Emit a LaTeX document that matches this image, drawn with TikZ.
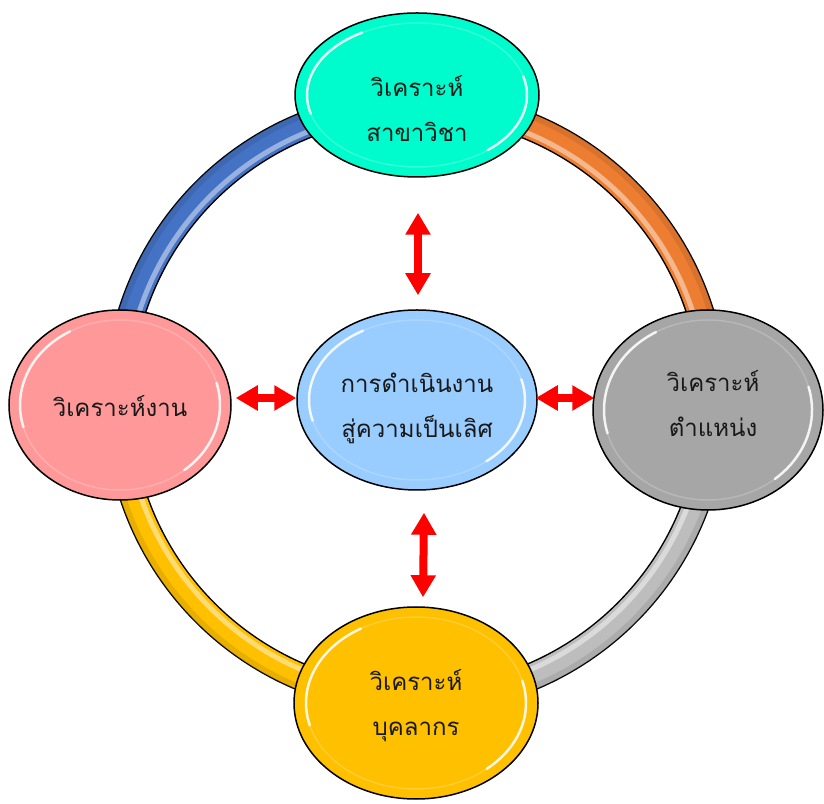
\documentclass[tikz,border=0pt]{standalone}
\usepackage{fontspec}
\newfontfamily\thaifont[Script=Thai]{Loma}
\usetikzlibrary{arrows.meta,shapes.geometric,calc}
\definecolor{cTop}{HTML}{00FCCC}
\definecolor{cCen}{HTML}{99CCFF}
\definecolor{cLeft}{HTML}{FF9999}
\definecolor{cRight}{HTML}{A6A6A6}
\definecolor{cBot}{HTML}{FFC000}
\definecolor{tBlue}{HTML}{4472C4}
\definecolor{tOrange}{HTML}{ED7D31}
\definecolor{tGray}{HTML}{BDBDBD}
\definecolor{tGold}{HTML}{FFC000}
\tikzset{
 bubble/.style={ellipse, draw=black, line width=1.5pt, inner sep=0pt},
 lbl/.style={font=\thaifont\fontsize{24}{45}\selectfont, align=center, inner sep=0pt, text=black!90},
 tubeout/.style={line width=28pt, draw=black},
 tubein/.style={line width=25pt},
 tubehi/.style={line width=5pt, draw=white, opacity=.45},
 glosshi/.style={draw=white, line width=2.5pt, opacity=.85, line cap=round},
 glossring/.style={draw=white, line width=1.5pt, opacity=.2},
 dblarrow/.style={draw=red, line width=8pt, {Triangle[length=22pt,width=24pt]}-{Triangle[length=22pt,width=24pt]}},
}
\newcommand\tubearc[3]{%
 \draw[tubeout] ($(O)+(#2:298)$) arc[start angle=#2,end angle=#3,radius=298];
 \draw[tubein,draw=#1] ($(O)+(#2:298)$) arc[start angle=#2,end angle=#3,radius=298];
 \draw[tubein,line width=6pt,draw=#1!75!black,opacity=.35] ($(O)+(#2:308)$) arc[start angle=#2,end angle=#3,radius=308];
 \draw[tubehi] ($(O)+(#2:291)$) arc[start angle=#2,end angle=#3,radius=291];
}
\newcommand\glossarcs[3]{%
 \draw[glossring] (#1.center) ellipse[x radius=#2, y radius=#3];
 \draw[glosshi] (#1.center) ++(120:#2 and #3) arc[start angle=120,end angle=195,x radius=#2,y radius=#3];
 \draw[glosshi] (#1.center) ++(-50:#2 and #3) arc[start angle=-50,end angle=15,x radius=#2,y radius=#3];
}
\begin{document}
\begin{tikzpicture}[x=1pt,y=1pt]
\useasboundingbox (0,0) rectangle (824,803);
\coordinate (O) at (416,401);
% ring
\tubearc{tBlue}{90}{180}
\tubearc{tOrange}{0}{90}
\tubearc{tGray}{-90}{0}
\tubearc{tGold}{180}{270}
% bubbles
\node[bubble, fill=cTop, minimum width=244pt, minimum height=164pt] (top) at (417,708) {};
\node[bubble, fill=cCen, minimum width=240pt, minimum height=180pt] (cen) at (417,403) {};
\node[bubble, fill=cLeft, minimum width=222pt, minimum height=190pt] (lft) at (120,398) {};
\node[bubble, fill=cRight, minimum width=230pt, minimum height=200pt] (rgt) at (708,393) {};
\node[bubble, fill=cBot, minimum width=244pt, minimum height=192pt] (bot) at (416,100) {};
\glossarcs{top}{110}{72}
\glossarcs{cen}{108}{80}
\glossarcs{lft}{100}{85}
\glossarcs{rgt}{104}{90}
\glossarcs{bot}{110}{86}
% arrows
\draw[dblarrow] ([xshift=1pt,yshift=-35pt]top.south) -- ([xshift=1pt,yshift=14pt]cen.north);
\draw[dblarrow] ([xshift=7pt,yshift=-22pt]cen.south) -- ([xshift=7pt,yshift=9pt]bot.north);
\draw[dblarrow] ([shift={(4pt,7pt)}]lft.east) -- ([shift={(0pt,2pt)}]cen.west);
\draw[dblarrow] ([shift={(-2pt,2pt)}]cen.east) -- ([shift={(2pt,12pt)}]rgt.west);
% labels
\node[lbl, anchor=base] (ttop) at ([yshift=-47pt]top.center) {วิเคราะห์\\สาขาวิชา};
\node[lbl, anchor=base] (tcen) at ([yshift=-38pt]cen.center) {การดำเนินงาน\\สู่ความเป็นเลิศ};
\node[lbl, anchor=base] (tlft) at ([yshift=-12pt]lft.center) {วิเคราะห์งาน};
\node[lbl, anchor=base] (trgt) at ([shift={(5pt,-27pt)}]rgt.center) {วิเคราะห์\\ตำแหน่ง};
\node[lbl, anchor=base] (tbot) at ([yshift=-32pt]bot.center) {วิเคราะห์\\บุคลากร};
\end{tikzpicture}
\end{document}
